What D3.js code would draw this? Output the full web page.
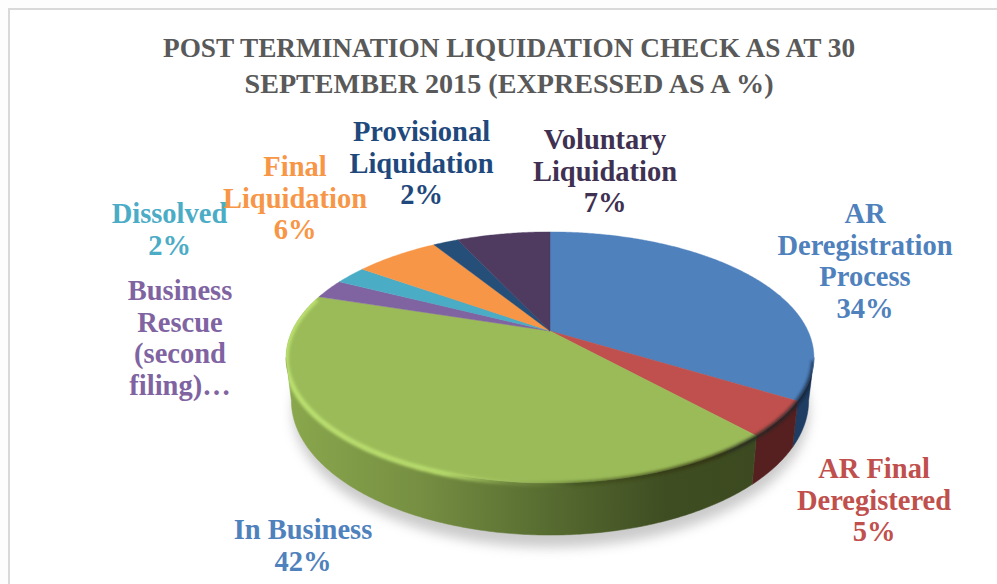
<!DOCTYPE html>
<html><head><meta charset="utf-8">
<script src="https://cdn.jsdelivr.net/npm/d3@7/dist/d3.min.js"></script>
<style>html,body{margin:0;padding:0;background:#fff;overflow:hidden}svg{display:block}</style>
</head><body><svg id="c" width="997" height="584"></svg>
<script>
const titleLines = ["POST TERMINATION LIQUIDATION CHECK AS AT 30", "SEPTEMBER 2015 (EXPRESSED AS A %)"];
const categories = ["AR Deregistration Process","AR Final Deregistered","In Business","Business Rescue (second filing)","Dissolved","Final Liquidation","Provisional Liquidation","Voluntary Liquidation"];
const values = [33.7,4.5,41.7,2.5,2.4,6.3,1.9,7.0];
const topColors = ["#4f81bd","#c0504d","#9bbb59","#8064a2","#4bacc6","#f79646","#254e79","#4f3a60"];
const wallColors = ["#1f3d63","#562020","#5d7336","#8064a2","#4bacc6","#f79646","#254e79","#4f3a60"];
const labelColors = ["#4f81bd","#c0504d","#4f81bd","#8064a2","#4bacc6","#f79646","#1f497d","#403152"];
const labelLines = [["AR","Deregistration","Process"],["AR Final","Deregistered"],["In Business"],["Business","Rescue","(second","filing)…"],["Dissolved"],["Final","Liquidation"],["Provisional","Liquidation"],["Voluntary","Liquidation"]];
const showPct = [true,true,true,false,true,true,true,true];
const labelPos = [[865,223],[874,478],[303,539],[180,300],[169.5,223],[295,176],[421.5,141],[605,149]];
const titleFit = [692,529];

const svg = d3.select("#c");
const font = "'Liberation Serif',serif";
const cx=550, cy=331, A=258, B=120, P=0.211, H=41, SHRINK=0.02;
const pie = d3.pie().sort(null).value(d=>d)(values);
const proj = (t,h=0)=>{const u=Math.sin(t),v=-Math.cos(t),w=1-P*v;return [cx+A*u/w*(1-SHRINK*h/H), cy+(B*v+h)/w];};
const arcPts=(a,b,h=0)=>{const n=Math.max(2,Math.ceil((b-a)/0.01));return d3.range(n+1).map(i=>proj(a+(b-a)*i/n,h));};
const line=d3.line();
const tau=Math.PI*2, frontA=Math.acos(-P), frontB=tau-frontA;
const defs=svg.append("defs");
const blur=(id,s)=>defs.append("filter").attr("id",id).attr("x","-20%").attr("y","-20%").attr("width","140%").attr("height","140%").append("feGaussianBlur").attr("stdDeviation",s);
blur("b8",6);blur("b2",1.6);
const grad=(id,stops)=>{const g=defs.append("linearGradient").attr("id",id).attr("gradientUnits","userSpaceOnUse").attr("x1",286).attr("x2",814).attr("y1",0).attr("y2",0);
 stops.forEach(s=>g.append("stop").attr("offset",s[0]).attr("stop-color",s[1]).attr("stop-opacity",s[2]===undefined?1:s[2]));};
grad("wallG",[[0,"#8aa84d"],[.25,"#768f42"],[.5,"#566b30"],[.72,"#3f4d22"],[1,"#3b4820"]]);
grad("rimG",[[0,"#bce070",1],[.3,"#b8dc6c",1],[.42,"#a5c660",.25],[.55,"#3a4a1c",.5],[.8,"#30300f",.8],[1,"#101c30",.7]]);

// frame
svg.append("rect").attr("width",997).attr("height",584).attr("fill","#fdfdfd");
svg.append("rect").attr("x",9).attr("y",9).attr("width",988).attr("height",575).attr("fill","#fff");
svg.append("path").attr("d","M9,584V9H997").attr("fill","none").attr("stroke","#d9d9d9").attr("stroke-width",2);

// shadow
svg.append("path").attr("d",line(arcPts(0,tau,46))+"Z").attr("transform","translate(1,6)").attr("fill","#a8a8a8").attr("opacity",.6).attr("filter","url(#b8)");

// walls
const g=svg.append("g");
const wallSlices=pie.map((d,i)=>({a:Math.max(d.startAngle,frontA),b:Math.min(d.endAngle,frontB),i})).filter(d=>d.b>d.a);
g.selectAll("path.wall").data(wallSlices).join("path").attr("class","wall")
 .attr("d",d=>line(arcPts(d.a,d.b,0).concat(arcPts(d.a,d.b,H).reverse()))+"Z")
 .attr("fill",d=>d.i===2?"url(#wallG)":wallColors[d.i])
 .attr("stroke",d=>d.i===2?"url(#wallG)":wallColors[d.i]).attr("stroke-width",.5);

// top surface
g.selectAll("path.top").data(pie).join("path").attr("class","top")
 .attr("d",d=>line([[cx,cy]].concat(arcPts(d.startAngle,d.endAngle)))+"Z")
 .attr("fill",(d,i)=>topColors[i]).attr("stroke",(d,i)=>topColors[i]).attr("stroke-width",.4);

// bevel along the near rim, kept inside the solid
defs.append("clipPath").attr("id","solidClip").append("path")
 .attr("d",line(arcPts(frontA,frontB,H).concat(arcPts(frontB,tau+frontA,0)))+"Z");
svg.append("g").attr("clip-path","url(#solidClip)").append("path")
 .attr("d",line(arcPts(frontA+0.02,frontB+0.5,0.8))).attr("fill","none")
 .attr("stroke","url(#rimG)").attr("stroke-width",5).attr("filter","url(#b2)");

// title
svg.append("g").selectAll("text").data(titleLines).join("text")
 .attr("x",509).attr("y",(d,i)=>57+i*35.5).attr("text-anchor","middle")
 .attr("font-family",font).attr("font-weight",700).attr("font-size",28).attr("fill","#595959")
 .attr("textLength",(d,i)=>titleFit[i]).attr("lengthAdjust","spacingAndGlyphs").text(d=>d);

// labels
const lh=31.5;
const lab=svg.append("g").selectAll("text").data(categories).join("text")
 .attr("font-family",font).attr("font-weight",700).attr("font-size",28.5).attr("text-anchor","middle")
 .attr("fill",(d,i)=>labelColors[i]);
lab.each(function(d,i){
  const lines=labelLines[i].concat(showPct[i]?[Math.round(values[i])+"%"]:[]);
  d3.select(this).selectAll("tspan").data(lines).join("tspan")
   .attr("x",labelPos[i][0]).attr("y",(l,k)=>labelPos[i][1]+k*lh).text(l=>l);
});
</script></body></html>
